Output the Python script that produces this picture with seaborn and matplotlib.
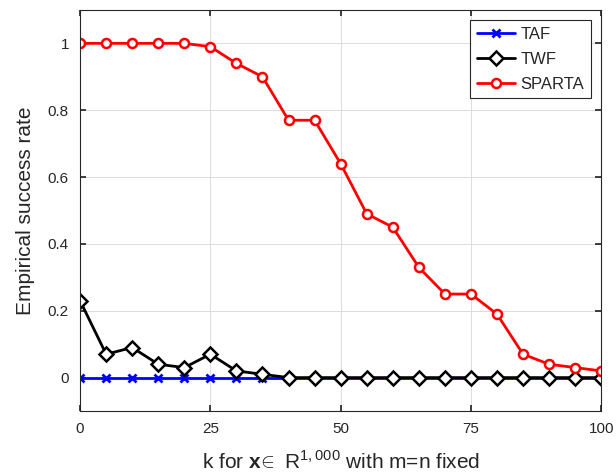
import matplotlib
matplotlib.use("Agg")
import matplotlib.pyplot as plt
import seaborn as sns
import pandas as pd

k = [0, 5, 10, 15, 20, 25, 30, 35, 40, 45, 50, 55, 60, 65, 70, 75, 80, 85, 90, 95, 100]
taf = [0]*21
twf = [0.23, 0.07, 0.09, 0.04, 0.03, 0.07, 0.02, 0.01, 0, 0, 0, 0, 0, 0, 0, 0, 0, 0, 0, 0, 0]
sparta = [1, 1, 1, 1, 1, 0.99, 0.94, 0.90, 0.77, 0.77, 0.64, 0.49, 0.45, 0.33, 0.25, 0.25,
          0.19, 0.07, 0.04, 0.03, 0.02]
xticks = [0, 25, 50, 75, 100]
yticks = [0, 0.2, 0.4, 0.6, 0.8, 1]

sns.set_theme(style="whitegrid")
plt.rcParams['font.family'] = ['Liberation Sans', 'DejaVu Sans']
plt.rcParams['mathtext.fontset'] = 'custom'
plt.rcParams['mathtext.rm'] = 'Liberation Sans'
plt.rcParams['mathtext.bf'] = 'Liberation Sans:bold'

fig = plt.figure(figsize=(6.16, 4.73), dpi=100)
ax = fig.add_axes([0.13, 0.131, 0.846, 0.848])

df = pd.DataFrame({'k': k, 'TAF': taf, 'TWF': twf, 'SPARTA': sparta})

sns.lineplot(data=df, x='k', y='TAF', ax=ax, color='#0000ff', lw=2, linestyle='-', marker='x',
             markersize=6, markeredgewidth=2, markeredgecolor='#0000ff', label='TAF')
sns.lineplot(data=df, x='k', y='TWF', ax=ax, color='black', lw=2, linestyle='-', marker='D',
             markersize=7, markeredgewidth=1.8, markerfacecolor='white', markeredgecolor='black', label='TWF')
sns.lineplot(data=df, x='k', y='SPARTA', ax=ax, color='#ff0000', lw=2, linestyle='-', marker='o',
             markersize=6.5, markeredgewidth=1.8, markerfacecolor='white', markeredgecolor='#ff0000', label='SPARTA')

ax.set_xlim(0, 100)
ax.set_ylim(-0.1, 1.1)
ax.set_xticks(xticks)
ax.set_xticklabels([str(t) for t in xticks])
ax.set_yticks(yticks)
ax.set_yticklabels(['0', '0.2', '0.4', '0.6', '0.8', '1'])
ax.tick_params(axis='both', labelsize=11, colors='#262626', direction='in', length=4,
               left=True, bottom=True, top=True, right=True, pad=8)
ax.grid(True, color='#dcdcdc', lw=0.7)
for s in ax.spines.values():
    s.set_color('#262626')
    s.set_linewidth(0.8)

ax.set_xlabel(r'k for $\mathbf{x}$$\!\in$ R$^{1,000}$ with m=n fixed', fontsize=15, color='#262626', labelpad=10)
ax.set_ylabel('Empirical success rate', fontsize=15, color='#262626', labelpad=9)

leg = ax.legend(loc='upper right', bbox_to_anchor=(0.98, 0.975), fontsize=12, frameon=True,
                fancybox=False, edgecolor='#262626', framealpha=1, borderpad=0.4,
                handlelength=2.3, labelspacing=0.6, handletextpad=0.3, borderaxespad=0)
leg.get_frame().set_linewidth(0.8)

fig.savefig('out.png', dpi=100)
